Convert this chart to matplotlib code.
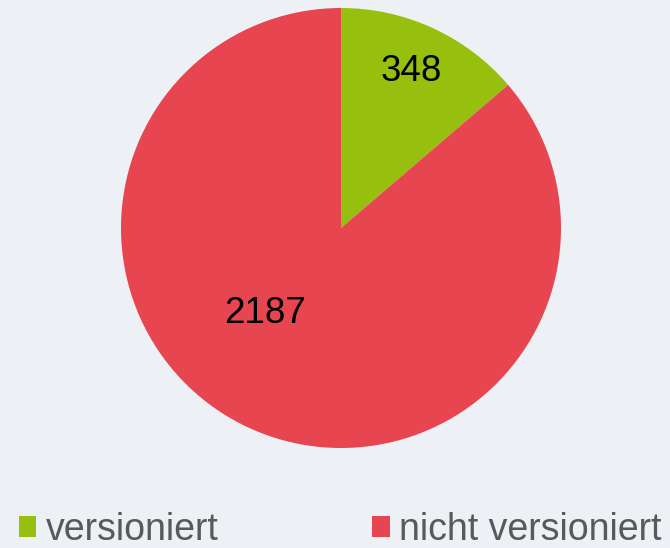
import matplotlib
matplotlib.use("Agg")
import matplotlib.pyplot as plt
import numpy as np

categories = ["versioniert", "nicht versioniert"]
values = [348, 2187]
colors = ["#97C00E", "#E74550"]
bg = "#EDF1F5"

plt.rcParams['font.family'] = ['Liberation Sans', 'DejaVu Sans']

fig = plt.figure(figsize=(6.7, 5.48), dpi=100, facecolor=bg)
ax = fig.add_axes([121/670, 100/548, 440/670, 440/548])
ax.set_facecolor(bg)

wedges, _ = ax.pie(values, colors=colors, startangle=90, counterclock=False,
                   radius=1.0, wedgeprops=dict(linewidth=0))
ax.set_xlim(-1, 1)
ax.set_ylim(-1, 1)
ax.set_aspect('equal')
ax.axis('off')

# value labels
label_r = [0.78, 0.52]
label_shift = [0.5, -17]
for w, v, r, s in zip(wedges, values, label_r, label_shift):
    ang = np.deg2rad((w.theta1 + w.theta2) / 2 + s)
    ax.text(r * np.cos(ang), r * np.sin(ang), str(v), ha='center', va='center',
            fontsize=26.5, color='black')

leg = fig.legend(wedges, categories, loc='lower left', bbox_to_anchor=(19/670, 0/548),
                 ncol=2, frameon=False, fontsize=27.0, handlelength=0.46,
                 handleheight=0.46, handletextpad=0.25, columnspacing=4.1,
                 borderpad=0, borderaxespad=0)
for t in leg.get_texts():
    t.set_color('#595959')

fig.savefig("out.png", dpi=100, facecolor=bg)
